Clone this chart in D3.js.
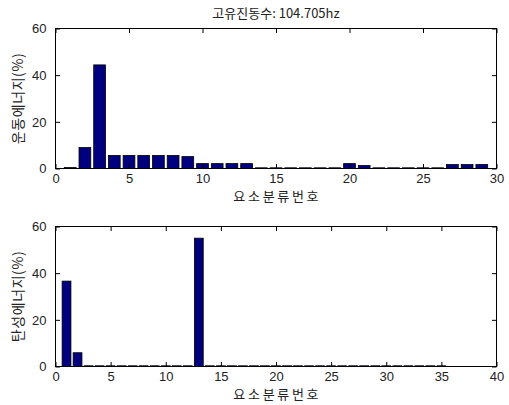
<!DOCTYPE html>
<html>
<head>
<meta charset="utf-8">
<script src="https://cdn.jsdelivr.net/npm/d3@7"></script>
<style>
  html, body { margin: 0; padding: 0; background: #fff; }
  svg { display: block; }
  .tick text { font-family: "Liberation Sans", Arial, sans-serif; font-size: 13px; fill: #222; }
  .ko { font-family: "Noto Sans CJK KR", sans-serif; fill: #222; }
</style>
</head>
<body>
<svg id="chart" width="509" height="405"></svg>
<script>
// Mode title
const titleText = "고유진동수: 104.705hz";
const xLabel = "요소분류번호";

// Kinetic energy share per element group (%)
const kineticGroups = d3.range(1, 30);
const kineticEnergy = [0.4, 9.0, 44.4, 5.6, 5.6, 5.6, 5.6, 5.6, 5.1, 2.1,
                       2.1, 2.1, 2.1, 0.3, 0.3, 0.3, 0.3, 0.3, 0.3, 2.1,
                       1.3, 0.3, 0.3, 0.3, 0.3, 0.3, 1.7, 1.7, 1.7];
const kineticXTicks = [0, 5, 10, 15, 20, 25, 30];

// Strain energy share per element group (%)
const strainGroups = d3.range(1, 36);
const strainEnergy = [36.6, 5.9, 0.3, 0.3, 0.3, 0.3, 0.3, 0.3, 0.3, 0.3,
                      0.3, 0.3, 55.0, 0.3, 0.3, 0.3, 0.3, 0.3, 0.3, 0.3,
                      0.3, 0.3, 0.3, 0.3, 0.3, 0.3, 0.3, 0.3, 0.3, 0.3,
                      0.3, 0.3, 0.3, 0.3, 0.3];
const strainXTicks = [0, 5, 10, 15, 20, 25, 30, 35, 40];

const yTicks = [0, 20, 40, 60];

const svg = d3.select("#chart");
const barFill = "#00007f";
const tickLen = 4.5;

function panel(opts) {
  const { left, right, top, bottom, xMax, xTicks, groups, values, yLabel } = opts;
  const x = d3.scaleLinear().domain([0, xMax]).range([left, right]);
  const y = d3.scaleLinear().domain([0, 60]).range([bottom, top]);
  const g = svg.append("g");

  // bars (width 0.8 of a group slot)
  g.selectAll("rect.bar").data(groups).join("rect")
    .attr("class", "bar")
    .attr("x", d => x(d - 0.4))
    .attr("width", d => x(d + 0.4) - x(d - 0.4))
    .attr("y", (d, i) => y(values[i]))
    .attr("height", (d, i) => y(0) - y(values[i]))
    .attr("fill", barFill)
    .attr("stroke", "#000")
    .attr("stroke-width", 0.8);

  // bottom and left axes with inward ticks
  const xAxis = d3.axisBottom(x).tickValues(xTicks).tickSizeInner(-tickLen).tickSizeOuter(0).tickPadding(5);
  const yAxis = d3.axisLeft(y).tickValues(yTicks).tickSizeInner(-tickLen).tickSizeOuter(0).tickPadding(9);
  const gx = g.append("g").attr("transform", `translate(0,${bottom})`).call(xAxis);
  const gy = g.append("g").attr("transform", `translate(${left},0)`).call(yAxis);
  // top and right mirror ticks
  const gxt = g.append("g").attr("transform", `translate(0,${top})`)
    .call(d3.axisTop(x).tickValues(xTicks).tickSizeInner(-tickLen).tickSizeOuter(0).tickFormat(""));
  const gyr = g.append("g").attr("transform", `translate(${right},0)`)
    .call(d3.axisRight(y).tickValues(yTicks).tickSizeInner(-tickLen).tickSizeOuter(0).tickFormat(""));
  [gx, gy, gxt, gyr].forEach(a => {
    a.select(".domain").remove();
    a.selectAll(".tick line").attr("stroke", "#000");
  });

  // axes box
  g.append("rect")
    .attr("x", left).attr("y", top)
    .attr("width", right - left).attr("height", bottom - top)
    .attr("fill", "none").attr("stroke", "#000").attr("stroke-width", 1);

  // axis titles
  g.append("text").attr("class", "ko")
    .attr("x", (left + right) / 2 + 1.3).attr("y", bottom + 32.5)
    .attr("text-anchor", "middle").attr("font-size", 13)
    .attr("letter-spacing", 2.7)
    .text(xLabel);
  g.append("text").attr("class", "ko")
    .attr("transform", `translate(23,${(top + bottom) / 2}) rotate(-90)`)
    .attr("text-anchor", "middle").attr("font-size", 14)
    .attr("letter-spacing", 0.6)
    .text(yLabel);
}

svg.append("text").attr("class", "ko")
  .attr("x", 276).attr("y", 18)
  .attr("text-anchor", "middle").attr("font-size", 13)
  .text(titleText);

panel({ left: 55.5, right: 496.5, top: 28.5, bottom: 168.5, xMax: 30,
        xTicks: kineticXTicks, groups: kineticGroups, values: kineticEnergy,
        yLabel: "운동에너지(%)" });
panel({ left: 55.5, right: 496.5, top: 226.5, bottom: 366.5, xMax: 40,
        xTicks: strainXTicks, groups: strainGroups, values: strainEnergy,
        yLabel: "탄성에너지(%)" });
</script>
</body>
</html>
